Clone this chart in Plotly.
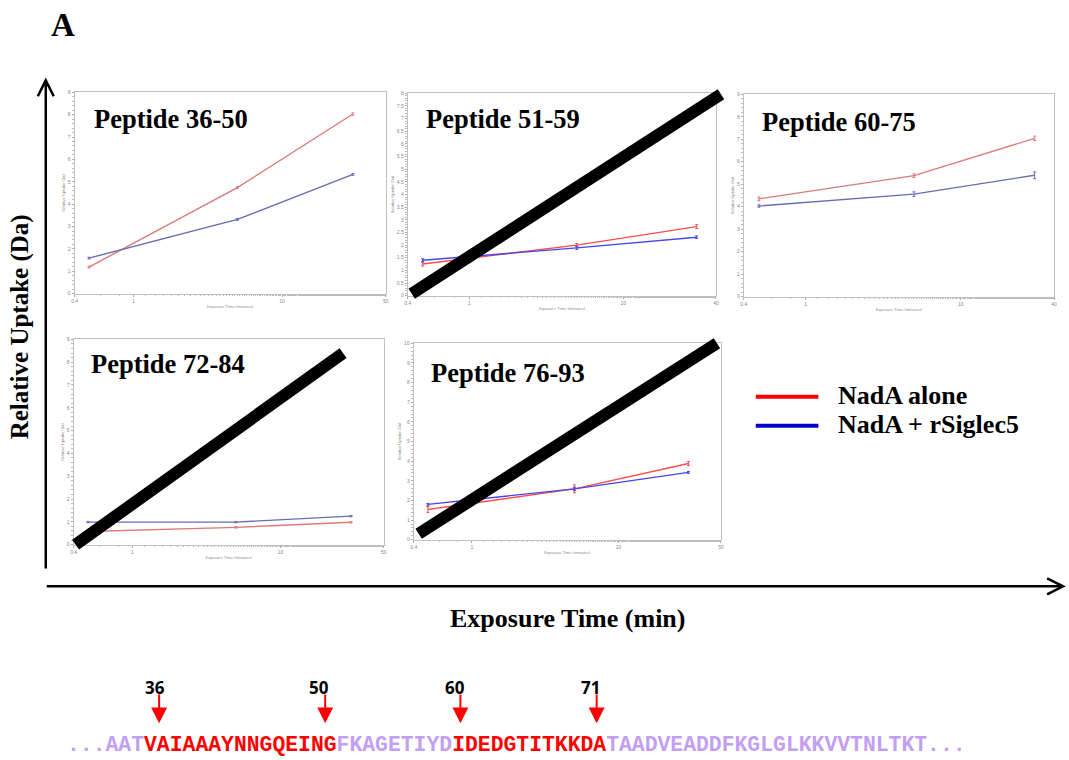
import math
import plotly.graph_objects as go

W, H = 1069, 760

# ---------------- data ----------------
times = [0.5, 5, 30]
peptides = ["Peptide 36-50", "Peptide 51-59", "Peptide 60-75", "Peptide 72-84", "Peptide 76-93"]
alone = [
    [1.19, 4.74, 8.03],
    [1.25, 2.00, 2.73],
    [4.35, 5.38, 7.04],
    [0.58, 0.76, 0.98],
    [1.54, 2.59, 3.88],
]
siglec = [
    [1.59, 3.32, 5.33],
    [1.40, 1.89, 2.31],
    [4.03, 4.56, 5.40],
    [0.99, 0.99, 1.25],
    [1.80, 2.59, 3.43],
]
err_alone = [
    [0.04, 0.05, 0.05],
    [0.08, 0.06, 0.08],
    [0.08, 0.08, 0.10],
    [0.03, 0.03, 0.03],
    [0.15, 0.20, 0.10],
]
err_siglec = [
    [0.04, 0.04, 0.04],
    [0.06, 0.06, 0.05],
    [0.05, 0.10, 0.15],
    [0.03, 0.03, 0.03],
    [0.05, 0.08, 0.05],
]
x_max = [50, 40, 40, 50, 50]
y_max = [9, 8, 9, 9, 10]
y_dtick = [1, 0.5, 1, 1, 1]
legend_labels = ["NadA alone", "NadA + rSiglec5"]
seq_parts = [("...AAT", "p"), ("VAIAAAYNNGQEING", "r"), ("FKAGETIYD", "p"),
             ("IDEDGTITKKDA", "r"), ("TAADVEADDFKGLGLKKVVTNLTKT...", "p")]
site_labels = ["36", "50", "60", "71"]

# ---------------- layout helpers ----------------
def px(x):
    return x / W

def py(y):
    return 1 - y / H

# panel frames in pixels: (left, top, right, bottom)
frames = [
    (72, 90, 385, 293),
    (407, 91, 717, 295),
    (745, 92, 1057, 296),
    (71, 339, 383, 546),
    (413, 343, 722, 541),
]
title_pos = [(90, 117), (423, 117), (761, 120), (86, 364), (428, 373)]
muted = [True, False, True, True, False]

fig = go.Figure()
shapes = []
annotations = []

for i in range(5):
    ax = "" if i == 0 else str(i + 1)
    xa, ya = "x" + ax, "y" + ax
    if muted[i]:
        c_red, c_blue = "#d97b7b", "#6b6bb0"
    else:
        c_red, c_blue = "#ff4d4d", "#4646e6"
    for vals, errs, col in ((alone[i], err_alone[i], c_red), (siglec[i], err_siglec[i], c_blue)):
        fig.add_trace(go.Scatter(
            x=times, y=vals, mode="lines", xaxis=xa, yaxis=ya,
            line=dict(color=col, width=1.4), showlegend=False,
            error_y=dict(type="data", array=errs, color=col, thickness=1, width=1.5),
        ))
    l, t, r, b = frames[i]
    common_tick = dict(size=5, color="#888888", family="Liberation Sans")
    xaxis = dict(
        domain=[px(l), px(r)], anchor=ya, type="log",
        range=[math.log10(0.4), math.log10(x_max[i])],
        tickvals=[0.4, 1, 10, x_max[i]],
        ticktext=["0.4", "1", "10", str(x_max[i])],
        tickfont=common_tick, ticks="outside", ticklen=2, tickcolor="#aaaaaa",
        showline=True, mirror=True, linecolor="#c0c0c0", linewidth=1,
        showgrid=False, zeroline=False,
        minor=dict(ticks="outside", ticklen=1.5, tickcolor="#bbbbbb"),
        title=dict(text="Exposure Time (minutes)", font=dict(size=4, color="#777777"), standoff=2),
    )
    yaxis = dict(
        domain=[py(b), py(t)], anchor=xa, range=[0, y_max[i]], dtick=y_dtick[i],
        tickfont=common_tick, ticks="outside", ticklen=2, tickcolor="#aaaaaa",
        showline=True, mirror=True, linecolor="#c0c0c0", linewidth=1,
        showgrid=False, zeroline=False,
        minor=dict(ticks="outside", ticklen=1.5, tickcolor="#bbbbbb", nticks=5),
        title=dict(text="Relative Uptake (Da)", font=dict(size=4, color="#777777"), standoff=2),
    )
    fig.layout["xaxis" + ax] = xaxis
    fig.layout["yaxis" + ax] = yaxis
    tx, ty = title_pos[i]
    annotations.append(dict(
        text="<b>%s</b>" % peptides[i], x=px(tx), y=py(ty), xref="paper", yref="paper",
        xanchor="left", yanchor="middle", showarrow=False,
        font=dict(family="Liberation Serif", size=26.5, color="black"),
    ))

# black strike-through bars on panels 51-59, 72-84, 76-93
for (x0, y0, x1, y1) in [(411, 293, 722, 92), (73, 546, 342, 353), (418, 535, 718, 343)]:
    shapes.append(dict(type="line", xref="paper", yref="paper",
                       x0=px(x0), y0=py(y0), x1=px(x1), y1=py(y1),
                       line=dict(color="black", width=12)))

# big axis arrows
shapes.append(dict(type="line", xref="paper", yref="paper", x0=px(43), y0=py(570), x1=px(43), y1=py(78),
                   line=dict(color="black", width=2.5)))
shapes.append(dict(type="path", xref="paper", yref="paper",
                   path="M %f %f L %f %f L %f %f" % (px(35), py(94), px(43), py(78), px(51), py(94)),
                   line=dict(color="black", width=2.5)))
shapes.append(dict(type="line", xref="paper", yref="paper", x0=px(44), y0=py(588), x1=px(1065), y1=py(588),
                   line=dict(color="black", width=2.5)))
shapes.append(dict(type="path", xref="paper", yref="paper",
                   path="M %f %f L %f %f L %f %f" % (px(1050), py(580), px(1066), py(588), px(1050), py(596)),
                   line=dict(color="black", width=2.5)))

# legend
for j, (col, yy) in enumerate((("#ff0000", 397), ("#0000cc", 426))):
    shapes.append(dict(type="line", xref="paper", yref="paper", x0=px(757), y0=py(yy), x1=px(820), y1=py(yy),
                       line=dict(color=col, width=4)))
    annotations.append(dict(text="<b>%s</b>" % legend_labels[j], x=px(838), y=py(yy - 1),
                            xref="paper", yref="paper", xanchor="left", yanchor="middle", showarrow=False,
                            font=dict(family="Liberation Serif", size=26, color="black")))

# big labels
annotations.append(dict(text="<b>A</b>", x=px(46), y=py(22), xref="paper", yref="paper",
                        xanchor="left", yanchor="middle", showarrow=False,
                        font=dict(family="Liberation Serif", size=33, color="black")))
annotations.append(dict(text="<b>Relative Uptake (Da)</b>", x=px(18), y=py(326), xref="paper", yref="paper",
                        xanchor="center", yanchor="middle", showarrow=False, textangle=-90,
                        font=dict(family="Liberation Serif", size=25, color="black")))
annotations.append(dict(text="<b>Exposure Time (min)</b>", x=px(568), y=py(620), xref="paper", yref="paper",
                        xanchor="center", yanchor="middle", showarrow=False,
                        font=dict(family="Liberation Serif", size=26, color="black")))

# sequence
col_map = {"p": "#c39ff2", "r": "#ff0000"}
seq_html = "".join('<span style="color:%s">%s</span>' % (col_map[c], s) for s, c in seq_parts)
annotations.append(dict(text="<b>%s</b>" % seq_html, x=px(62), y=py(748), xref="paper", yref="paper",
                        xanchor="left", yanchor="middle", showarrow=False,
                        font=dict(family="Liberation Mono", size=21.4, color="#c39ff2")))

# site markers
for lab, lx, ax_ in zip(site_labels, [153, 318, 455, 591], [157, 324, 460, 597]):
    annotations.append(dict(text="<b>%s</b>" % lab, x=px(lx), y=py(690), xref="paper", yref="paper",
                            xanchor="center", yanchor="middle", showarrow=False,
                            font=dict(family="Open Sans", size=17, color="black")))
    shapes.append(dict(type="line", xref="paper", yref="paper", x0=px(ax_), y0=py(697), x1=px(ax_), y1=py(712),
                       line=dict(color="#ff0000", width=2)))
    shapes.append(dict(type="path", xref="paper", yref="paper",
                       path="M %f %f L %f %f L %f %f Z" % (px(ax_ - 8), py(710), px(ax_ + 8), py(710), px(ax_), py(726)),
                       fillcolor="#ff0000", line=dict(color="#ff0000", width=0)))

fig.update_layout(
    width=W, height=H, margin=dict(l=0, r=0, t=0, b=0),
    paper_bgcolor="white", plot_bgcolor="white",
    shapes=shapes, annotations=annotations, showlegend=False,
)
fig.write_html("out.html")
